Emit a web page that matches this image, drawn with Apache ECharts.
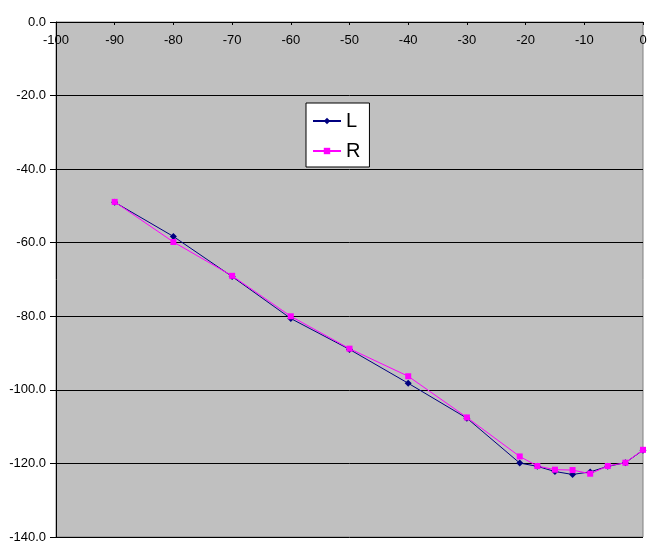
<!DOCTYPE html>
<html>
<head>
<meta charset="utf-8">
<script src="https://cdn.jsdelivr.net/npm/echarts@6/dist/echarts.min.js"></script>
<style>html,body{margin:0;padding:0;background:#fff}#c{width:654px;height:548px}</style>
</head>
<body>
<div id="c"></div>
<script>
const xValues = [-90, -80, -70, -60, -50, -40, -30, -21, -18, -15, -12, -9, -6, -3, 0];
const seriesL = [-49.0, -58.3, -69.2, -80.6, -89.0, -98.2, -107.7, -119.9, -120.8, -122.2, -123.0, -122.3, -120.8, -119.8, -116.4];
const seriesR = [-48.9, -59.8, -69.0, -80.0, -88.8, -96.3, -107.5, -118.1, -120.7, -121.7, -121.8, -122.8, -120.7, -119.8, -116.3];
const seriesNames = ['L', 'R'];

const chart = echarts.init(document.getElementById('c'), null, {renderer: 'canvas'});
const font = 'Liberation Sans, Arial, sans-serif';
chart.setOption({
  animation: false,
  textStyle: {fontFamily: font},
  grid: {left: 56, right: 11, top: 22, bottom: 11, show: true, backgroundColor: '#c0c0c0', borderColor: '#808080', borderWidth: 1},
  legend: {
    orient: 'vertical', left: 306, top: 103,
    backgroundColor: '#fff', borderColor: '#000', borderWidth: 1, borderRadius: 0,
    padding: [8, 9, 6, 6], itemWidth: 28, itemHeight: 8, itemGap: 10,
    textStyle: {fontSize: 20, color: '#000', fontFamily: font, lineHeight: 20},
    data: seriesNames
  },
  xAxis: {
    type: 'value', position: 'top', min: -100, max: 0, interval: 10,
    axisLine: {show: true, onZero: false, lineStyle: {color: '#000', width: 1}},
    axisTick: {show: true, inside: true, length: 3, lineStyle: {color: '#000'}},
    axisLabel: {inside: true, margin: 12, color: '#000', fontSize: 13, fontFamily: font},
    splitLine: {show: false}
  },
  yAxis: {
    type: 'value', min: -140, max: 0, interval: 20,
    axisLine: {show: true, onZero: false, lineStyle: {color: '#000', width: 1}},
    axisTick: {show: true, length: 6, lineStyle: {color: '#000'}},
    axisLabel: {margin: 10, color: '#000', fontSize: 13, fontFamily: font, formatter: v => v.toFixed(1)},
    splitLine: {show: true, lineStyle: {color: '#000', width: 1}}
  },
  series: [
    {name: seriesNames[0], type: 'line', data: xValues.map((x, i) => [x, seriesL[i]]),
     symbol: 'diamond', symbolSize: 7, showAllSymbol: true,
     lineStyle: {color: '#000080', width: 1}, itemStyle: {color: '#000080'}},
    {name: seriesNames[1], type: 'line', data: xValues.map((x, i) => [x, seriesR[i]]),
     symbol: 'rect', symbolSize: 6, showAllSymbol: true,
     lineStyle: {color: '#ff00ff', width: 1}, itemStyle: {color: '#ff00ff'}}
  ]
});
</script>
</body>
</html>
